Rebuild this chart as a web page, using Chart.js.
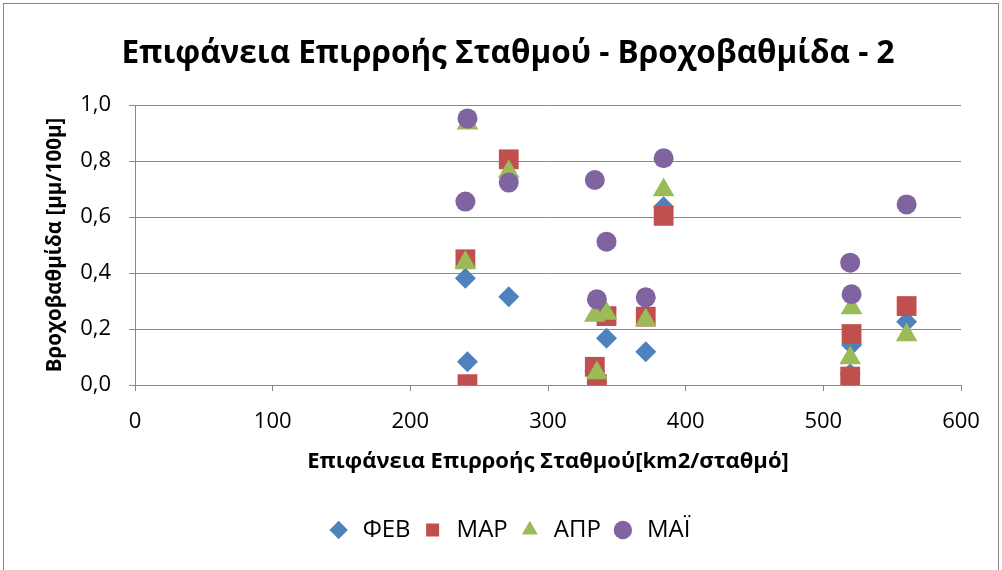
<!DOCTYPE html>
<html>
<head>
<meta charset="utf-8">
<script src="https://cdn.jsdelivr.net/npm/chart.js@4.4.0/dist/chart.umd.min.js"></script>
<style>
html,body{margin:0;padding:0;background:#fff;}
#wrap{width:1002px;height:570px;}
</style>
</head>
<body>
<div id="wrap"><canvas id="chart" width="1002" height="570"></canvas></div>
<script>
// station catchment area per station (km2)
const areas = [240, 241.5, 271.5, 334, 335.5, 342.5, 371, 384, 519.5, 520.5, 560.5];

const seriesNames = ["ФЕВ", "МАР", "АПР", "МАЇ"];
const feb = [0.381, 0.083, 0.315, 0.05, 0.01, 0.167, 0.119, 0.637, 0.04, 0.143, 0.226];
const mar = [0.449, 0.003, 0.806, 0.065, 0.003, 0.246, 0.244, 0.604, 0.03, 0.182, 0.282];
const apr = [0.437, 0.935, 0.762, 0.248, 0.043, 0.255, 0.232, 0.696, 0.096, 0.275, 0.179];
const may = [0.655, 0.952, 0.723, 0.732, 0.306, 0.512, 0.313, 0.81, 0.437, 0.324, 0.645];

const xTicks = [0, 100, 200, 300, 400, 500, 600];
const yTicks = [0, 0.2, 0.4, 0.6, 0.8, 1.0];

const FONT = "'Open Sans', 'Noto Sans', sans-serif";
const GRID = "#888888";

function pts(vals){
  return vals.map((v, i) => ({x: areas[i], y: v}));
}

/* outer frame of the chart, and title/legend centred on the whole chart box */
const framePlugin = {
  id: "frame",
  afterLayout(chart){
    chart.titleBlock.left += 25;
    chart.legend.left += 26;
  },
  afterDraw(chart){
    const c = chart.ctx;
    c.save();
    c.strokeStyle = "#868686";
    c.lineWidth = 1;
    c.strokeRect(3.5, 3.5, 995, 580);
    c.restore();
  }
};

const ctx = document.getElementById("chart").getContext("2d");

new Chart(ctx, {
  type: "scatter",
  data: {
    datasets: [
      {label: seriesNames[0], data: pts(feb), pointStyle: "rectRot", pointRadius: 10.5,
       backgroundColor: "#4F81BD", borderColor: "#4F81BD", borderWidth: 0, order: 4},
      {label: seriesNames[1], data: pts(mar), pointStyle: "rect", pointRadius: 14,
       backgroundColor: "#C0504D", borderColor: "#C0504D", borderWidth: 0, order: 3},
      {label: seriesNames[2], data: pts(apr), pointStyle: "triangle", pointRadius: 12.5,
       backgroundColor: "#9BBB59", borderColor: "#9BBB59", borderWidth: 0, order: 2},
      {label: seriesNames[3], data: pts(may), pointStyle: "circle", pointRadius: 10,
       backgroundColor: "#8064A2", borderColor: "#8064A2", borderWidth: 0, order: 1}
    ]
  },
  options: {
    responsive: false,
    animation: false,
    devicePixelRatio: 1,
    layout: {padding: {left: 30, right: 41, top: 0, bottom: 18}},
    plugins: {
      tooltip: {enabled: false},
      title: {
        display: true,
        text: "Επιφάνεια Επιρροής Σταθμού - Βροχοβαθμίδα - 2",
        color: "#000",
        font: {family: FONT, size: 31.5, weight: "bold", lineHeight: 1.2},
        padding: {top: 35, bottom: 32.2}
      },
      legend: {
        position: "bottom",
        labels: {
          usePointStyle: true,
          boxHeight: 13,
          color: "#000",
          font: {family: FONT, size: 24},
          padding: 10,
          sort: (a, b) => a.datasetIndex - b.datasetIndex
        }
      }
    },
    scales: {
      x: {
        type: "linear",
        min: 0,
        max: 600,
        afterBuildTicks: s => { s.ticks = xTicks.map(v => ({value: v})); },
        afterFit: s => { s.height = 123; },
        grid: {drawOnChartArea: false, drawTicks: true, tickLength: 6, color: GRID},
        border: {display: true, color: GRID, width: 1},
        ticks: {color: "#000", font: {family: FONT, size: 22}, padding: 18, maxRotation: 0},
        title: {
          display: true,
          text: "Επιφάνεια Επιρροής Σταθμού[km2/σταθμό]",
          color: "#000",
          font: {family: FONT, size: 22, weight: "bold", lineHeight: 1.2},
          padding: {top: 0, bottom: 32.8}
        }
      },
      y: {
        type: "linear",
        min: 0,
        max: 1,
        afterBuildTicks: s => { s.ticks = yTicks.map(v => ({value: v})); },
        afterFit: s => { s.width = 105; },
        grid: {color: GRID, lineWidth: 1, drawTicks: true, tickLength: 6},
        border: {display: true, color: GRID, width: 1},
        ticks: {
          color: "#000",
          font: {family: FONT, size: 22},
          padding: 18,
          callback: v => v.toFixed(1).replace(".", ",")
        },
        title: {
          display: true,
          text: "Βροχοβαθμίδα [μμ/100μ]",
          color: "#000",
          font: {family: FONT, size: 20.5, weight: "bold", lineHeight: 1.2},
          padding: {top: 12.7, bottom: 0}
        }
      }
    }
  },
  plugins: [framePlugin]
});
</script>
</body>
</html>
